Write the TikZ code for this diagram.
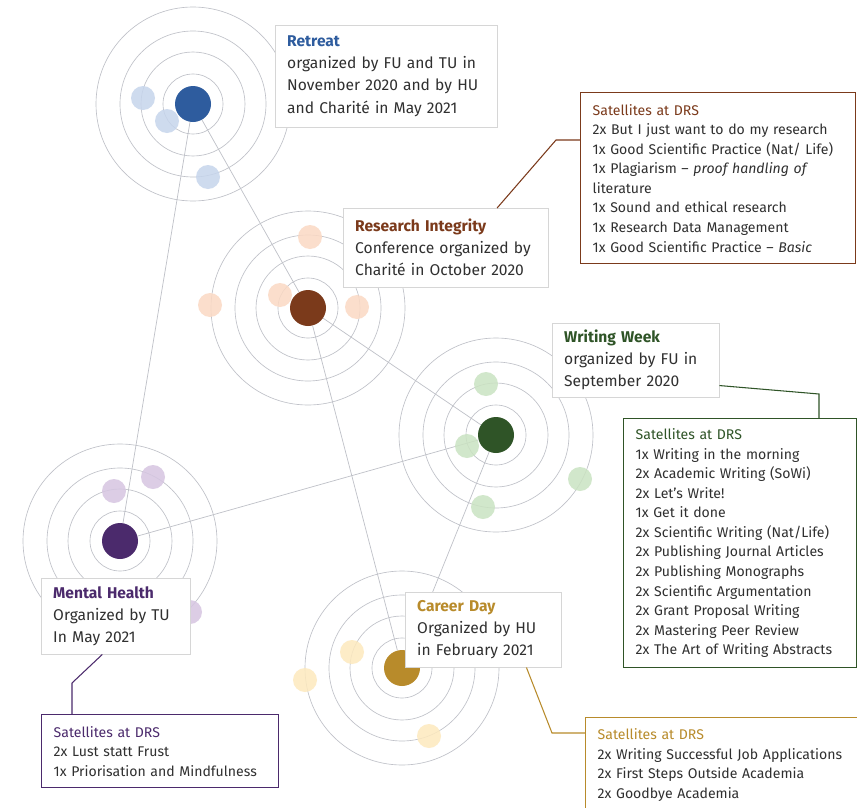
\documentclass[tikz,border=0pt]{standalone}
\usepackage{fontspec}
\setmainfont{Fira Sans}
\usepackage{xcolor}
\usetikzlibrary{calc}

\definecolor{retreatblue}{HTML}{2E5C9E}
\definecolor{retreatpale}{HTML}{C6D5EC}
\definecolor{integritybrown}{HTML}{7B3A1B}
\definecolor{integritypale}{HTML}{FBD9C4}
\definecolor{writinggreen}{HTML}{2F5427}
\definecolor{writingpale}{HTML}{CAE3C2}
\definecolor{healthpurple}{HTML}{4B2A6C}
\definecolor{healthpale}{HTML}{D6C5E1}
\definecolor{careergold}{HTML}{B88B2B}
\definecolor{careerpale}{HTML}{FDE9BE}
\definecolor{ringgrey}{HTML}{BFC1C8}
\definecolor{boxgrey}{HTML}{D6D6D6}
\definecolor{textgrey}{HTML}{303030}

\newcommand\eventfont{\fontsize{13.3}{18.8}\selectfont\color{textgrey}}
\newcommand\listfont{\fontsize{12}{16.7}\selectfont\color{textgrey}}

\begin{document}
\begin{tikzpicture}
    [x=0.03cm, y=-0.03cm,
    dot/.style = {circle, inner sep=0pt, minimum size=1.08cm},
    satellite/.style = {circle, inner sep=0pt, minimum size=0.72cm, fill opacity=0.85},
    ring/.style = {draw=ringgrey, line width=0.55pt},
    link/.style = {draw=ringgrey, line width=0.6pt},
    eventbox/.style = {draw=boxgrey, fill=white, anchor=north west, align=left,
                       inner xsep=0.36cm, inner ysep=0pt, font=\eventfont},
    listbox/.style = {draw=#1, line width=1.2pt, fill=white, anchor=north west, align=left,
                      inner xsep=0.36cm, inner ysep=0pt, font=\listfont},
    leader/.style = {draw=#1, line width=0.9pt}]
    \fill[white] (0,0) rectangle (857,808);
    \useasboundingbox (0,0) rectangle (857,808);
    % Veranstaltungen
    \node[dot, fill=retreatblue] (retreatdot) at (193,104) {};
    \node[dot, fill=integritybrown] (integritydot) at (308,308) {};
    \node[dot, fill=writinggreen] (writingdot) at (496,435) {};
    \node[dot, fill=healthpurple] (healthdot) at (120,541) {};
    \node[dot, fill=careergold] (careerdot) at (402,668) {};
    % Ringe
    \foreach \ev in {retreatdot, integritydot, writingdot, healthdot, careerdot}
        \foreach \r in {30,52,73,97}
            \draw[ring] (\ev) circle[radius=\r*0.03cm];
    % Verbindungen
    \draw[link] (retreatdot) -- (healthdot);
    \draw[link] (retreatdot) -- (integritydot);
    \draw[link] (integritydot) -- (writingdot);
    \draw[link] (integritydot) -- (careerdot);
    \draw[link] (healthdot) -- (writingdot);
    \draw[link] (writingdot) -- (careerdot);
    % Satelliten
    \foreach \x/\y [count=\i] in {143/98, 167/121, 208/177}
        \node[satellite, fill=retreatpale] (retreatsat\i) at (\x,\y) {};
    \foreach \x/\y [count=\i] in {310/237, 280/295, 357/307, 210/305}
        \node[satellite, fill=integritypale] (integritysat\i) at (\x,\y) {};
    \foreach \x/\y [count=\i] in {486/384, 467/446, 580/479, 483/507}
        \node[satellite, fill=writingpale] (writingsat\i) at (\x,\y) {};
    \foreach \x/\y [count=\i] in {114/491, 153/477, 190/612}
        \node[satellite, fill=healthpale] (healthsat\i) at (\x,\y) {};
    \foreach \x/\y [count=\i] in {352/652, 305/680, 429/736}
        \node[satellite, fill=careerpale] (careersat\i) at (\x,\y) {};
    % Beschriftungen
    \node[eventbox, text width=5.94cm, minimum height=3.06cm] (retreat) at (275,25)
        {{\bfseries\color{retreatblue}Retreat}\\organized by FU and TU in\\November 2020 and by HU\\and Charité in May 2021};
    \node[eventbox, text width=5.43cm, minimum height=2.37cm] (integrity) at (343,208)
        {{\bfseries\color{integritybrown}Research Integrity}\\Conference organized by\\Charité in October 2020};
    \node[eventbox, text width=4.29cm, minimum height=2.22cm] (writing) at (552,323)
        {{\bfseries\color{writinggreen}Writing Week}\\organized by FU in\\September 2020};
    \node[eventbox, text width=3.75cm, minimum height=2.28cm] (health) at (41,578)
        {{\bfseries\color{healthpurple}Mental Health}\\Organized by TU\\In May 2021};
    \node[eventbox, text width=3.96cm, minimum height=2.25cm] (career) at (405,592)
        {{\bfseries\color{careergold}Career Day}\\Organized by HU\\in February 2021};
    % Satelliten am DRS
    \node[listbox=integritybrown, text width=7.53cm, minimum height=5.13cm] (integritylist) at (580,92)
        {{\color{integritybrown}Satellites at DRS}\\
         2x But I just want to do my research\\
         1x Good Scientific Practice (Nat/ Life)\\
         1x Plagiarism -- \textit{proof handling of}\\
         literature\\
         1x Sound and ethical research\\
         1x Research Data Management\\
         1x Good Scientific Practice -- \textit{Basic}};
    \node[listbox=writinggreen, text width=6.27cm, minimum height=7.47cm] (writinglist) at (623,418)
        {{\color{writinggreen}Satellites at DRS}\\
         1x Writing in the morning\\
         2x Academic Writing (SoWi)\\
         2x Let’s Write!\\
         1x Get it done\\
         2x Scientific Writing (Nat/Life)\\
         2x Publishing Journal Articles\\
         2x Publishing Monographs\\
         2x Scientific Argumentation\\
         2x Grant Proposal Writing\\
         2x Mastering Peer Review\\
         2x The Art of Writing Abstracts};
    \node[listbox=healthpurple, text width=6.39cm, minimum height=2.19cm] (healthlist) at (41,714)
        {{\color{healthpurple}Satellites at DRS}\\
         2x Lust statt Frust\\
         1x Priorisation and Mindfulness};
    \node[listbox=careergold, text width=8.73cm, minimum height=2.85cm] (careerlist) at (585,717)
        {{\color{careergold}Satellites at DRS}\\
         2x Writing Successful Job Applications\\
         2x First Steps Outside Academia\\
         2x Goodbye Academia};
    % Zuleitungen
    \coordinate (integrityknee) at (556,140);
    \coordinate (writingknee) at (819,394);
    \coordinate (healthknee) at (72,683);
    \coordinate (careerknee) at (552,733);
    \draw[leader=integritybrown] ($(integrity.north west)!0.75!(integrity.north east)$)
        -- (integrityknee) -- (integrityknee -| integritylist.west);
    \draw[leader=writinggreen] ($(writing.south east)!0.16!(writing.north east)$)
        -- (writingknee) -- (writingknee |- writinglist.north);
    \draw[leader=healthpurple] ($(health.south west)!0.41!(health.south east)$)
        -- (healthknee) -- (healthknee |- healthlist.north);
    \draw[leader=careergold] ($(career.south west)!0.776!(career.south east)$)
        -- (careerknee) -- (careerknee -| careerlist.west);
\end{tikzpicture}
\end{document}
